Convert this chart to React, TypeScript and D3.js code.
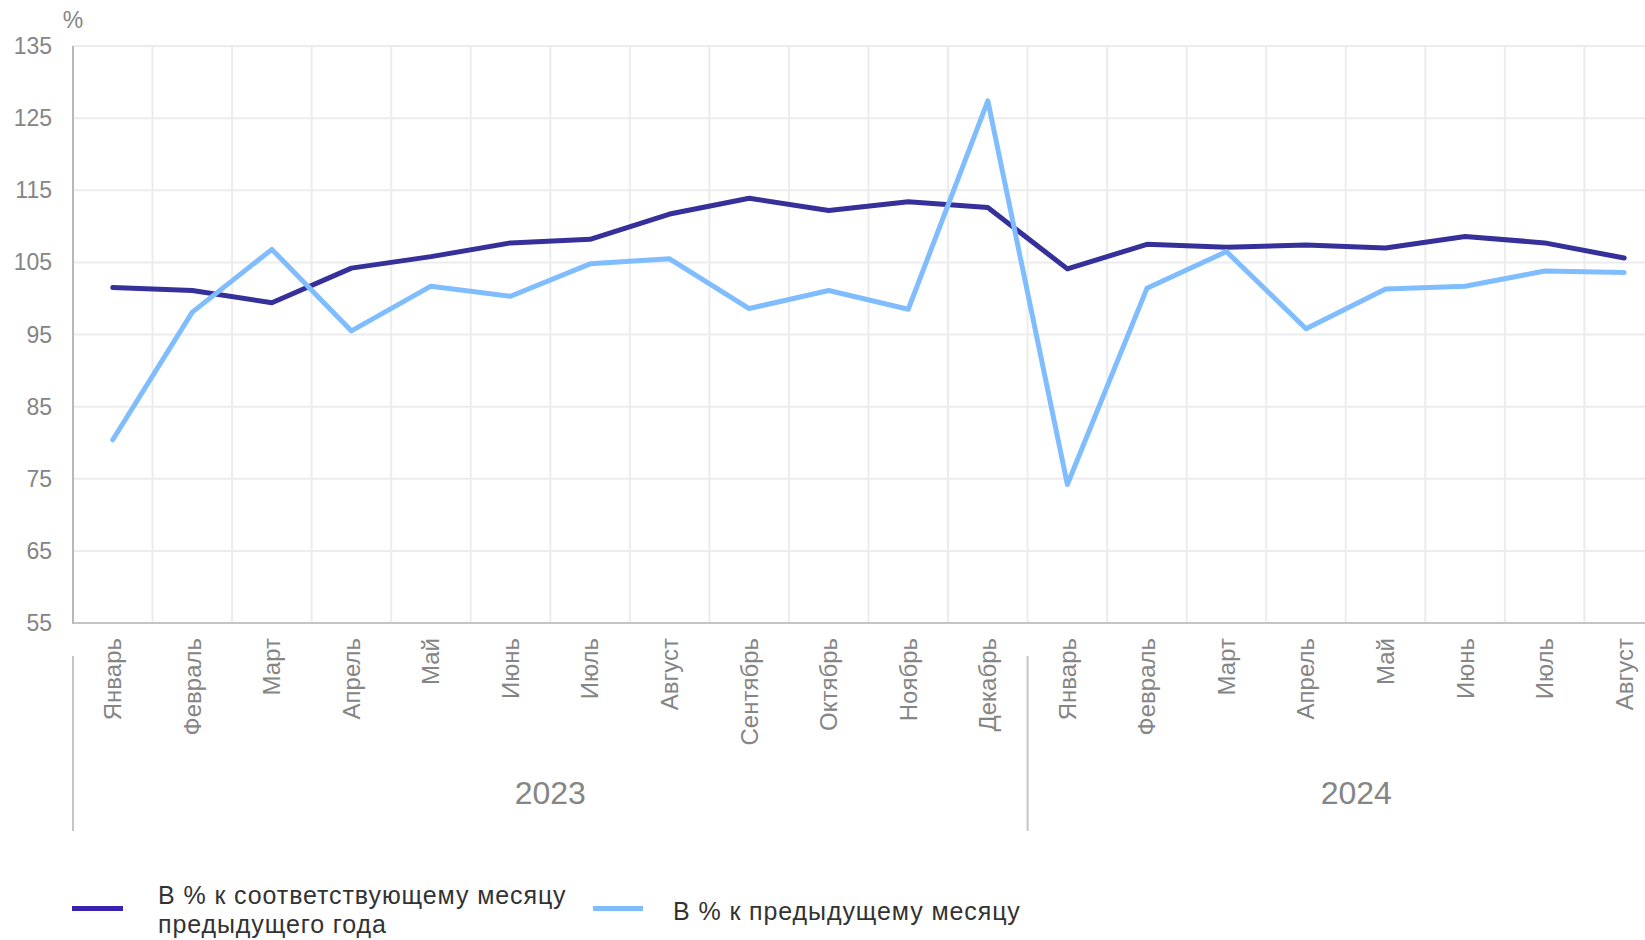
import React from "react";
import * as d3 from "d3";

const months2023 = ["Январь", "Февраль", "Март", "Апрель", "Май", "Июнь", "Июль", "Август", "Сентябрь", "Октябрь", "Ноябрь", "Декабрь"];
const months2024 = ["Январь", "Февраль", "Март", "Апрель", "Май", "Июнь", "Июль", "Август"];
const years = ["2023", "2024"];

const yoyValues = [101.5, 101.1, 99.4, 104.2, 105.8, 107.7, 108.2, 111.7, 113.9, 112.2, 113.4, 112.6, 104.1, 107.5, 107.1, 107.4, 107.0, 108.6, 107.7, 105.6];
const momValues = [80.4, 98.1, 106.8, 95.5, 101.7, 100.3, 104.8, 105.5, 98.6, 101.1, 98.5, 127.4, 74.2, 101.4, 106.5, 95.8, 101.3, 101.7, 103.8, 103.6];

const yTicks = [55, 65, 75, 85, 95, 105, 115, 125, 135];

const seriesNames = ["В % к соответствующему месяцу", "предыдущего года"];
const seriesName2 = "В % к предыдущему месяцу";

const W = 1645;
const H = 940;
const FONT = "'Liberation Sans', Arial, sans-serif";

export default function App() {
  const categories = [
    ...months2023.map((m, i) => ({ key: `2023-${i}`, label: m, year: years[0] })),
    ...months2024.map((m, i) => ({ key: `2024-${i}`, label: m, year: years[1] })),
  ];
  const left = 73;
  const band = 79.55;
  const top = 46;
  const bottom = 623;

  const x = d3
    .scaleBand<string>()
    .domain(categories.map((c) => c.key))
    .range([left, left + band * categories.length])
    .padding(0);
  const y = d3.scaleLinear().domain([55, 135]).range([bottom, top]);

  const cx = (k: string) => (x(k) as number) + x.bandwidth() / 2;

  const line = d3
    .line<number>()
    .x((_, i) => cx(categories[i].key))
    .y((d) => y(d));

  const groups = years.map((yr) => {
    const cats = categories.filter((c) => c.year === yr);
    const x0 = x(cats[0].key) as number;
    const x1 = (x(cats[cats.length - 1].key) as number) + x.bandwidth();
    return { yr, x0, x1, full: cats.length === 12 };
  });

  const gridXs = categories.map((c) => x(c.key) as number).slice(1);

  return (
    <svg width={W} height={H} style={{ position: "absolute", left: 0, top: 0, background: "#fff" }} fontFamily={FONT}>
      {/* horizontal gridlines */}
      {yTicks.map((t) => (
        <line key={`h${t}`} x1={left} x2={W} y1={y(t)} y2={y(t)} stroke="#ececec" strokeWidth={2} />
      ))}
      {/* vertical gridlines */}
      {gridXs.map((gx, i) => (
        <line key={`v${i}`} x1={gx} x2={gx} y1={top} y2={bottom} stroke="#ececec" strokeWidth={2} />
      ))}
      {/* axes */}
      <line x1={left} x2={left} y1={top} y2={bottom + 1} stroke="#b8b8b8" strokeWidth={2} />
      <line x1={left} x2={W} y1={bottom} y2={bottom} stroke="#c4c4c4" strokeWidth={2} />
      {/* y tick labels */}
      {yTicks.map((t) => (
        <text key={`yt${t}`} x={52} y={y(t)} dy="0.35em" textAnchor="end" fontSize={23} fill="#858585">
          {t}
        </text>
      ))}
      <text x={73} y={20} dy="0.35em" textAnchor="middle" fontSize={23} fill="#858585">
        %
      </text>
      {/* month labels */}
      {categories.map((c) => (
        <text
          key={`m${c.key}`}
          transform={`translate(${cx(c.key)},${638}) rotate(-90)`}
          textAnchor="end"
          dy="0.35em"
          fontSize={24}
          fill="#858585"
        >
          {c.label}
        </text>
      ))}
      {/* group separators */}
      {groups.map((g) => (
        <line key={`s${g.yr}`} x1={g.x0} x2={g.x0} y1={656} y2={831} stroke="#c4c4c4" strokeWidth={2} />
      ))}
      {/* year labels */}
      {groups.map((g) => (
        <text
          key={`yr${g.yr}`}
          x={(g.x0 + g.x1) / 2 + (g.full ? 0 : 10.5)}
          y={793}
          dy="0.35em"
          textAnchor="middle"
          fontSize={32}
          fill="#858585"
        >
          {g.yr}
        </text>
      ))}
      {/* lines */}
      <path d={line(yoyValues) || ""} fill="none" stroke="#35309a" strokeWidth={5} strokeLinejoin="round" strokeLinecap="round" />
      <path d={line(momValues) || ""} fill="none" stroke="#80bdff" strokeWidth={5} strokeLinejoin="round" strokeLinecap="round" />
      {/* legend */}
      <rect x={72} y={906} width={51} height={5} fill="#3a22b0" />
      <text x={158} y={895} dy="0.35em" fontSize={25} letterSpacing={0.9} fill="#333">
        {seriesNames[0]}
      </text>
      <text x={158} y={924} dy="0.35em" fontSize={25} letterSpacing={0.9} fill="#333">
        {seriesNames[1]}
      </text>
      <rect x={593} y={906} width={50} height={5} fill="#80bdff" />
      <text x={673} y={911.5} dy="0.35em" fontSize={25} letterSpacing={0.9} fill="#333">
        {seriesName2}
      </text>
    </svg>
  );
}
